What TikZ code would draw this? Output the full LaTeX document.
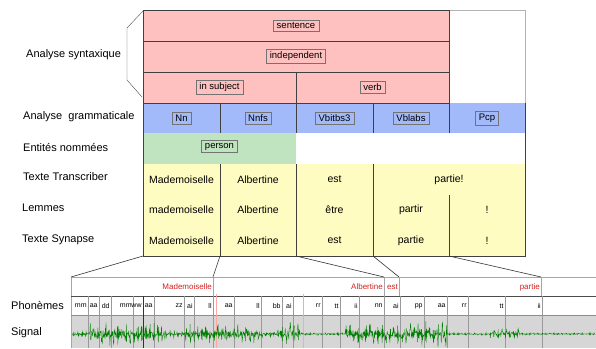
\documentclass[tikz,border=0pt]{standalone}
\usepackage{fontspec}
\setmainfont{Liberation Sans}
\usetikzlibrary{calc,positioning}
\definecolor{synpink}{RGB}{255,192,192}
\definecolor{grablue}{RGB}{162,186,250}
\definecolor{entgreen}{RGB}{192,228,192}
\definecolor{txtyellow}{RGB}{255,252,194}
\definecolor{siggray}{RGB}{214,214,214}
\definecolor{wavegreen}{RGB}{0,128,0}
\definecolor{wordred}{RGB}{214,30,30}
\tikzset{
  tag/.style={draw=black!55, inner xsep=3.5pt, inner ysep=2.5pt, font=\fontsize{9.5}{11}\selectfont},
  word/.style={inner sep=0pt, font=\fontsize{10.5}{12}\selectfont},
  rowlabel/.style={anchor=west, inner sep=0pt, font=\fontsize{11}{13}\selectfont},
  tierword/.style={anchor=east, inner sep=1pt, text=wordred, font=\fontsize{8}{9}\selectfont},
  phon/.style={anchor=east, inner sep=1.2pt, font=\fontsize{7}{8}\selectfont},
  grid/.style={draw=black!75, line width=0.6pt},
  link/.style={draw=black!80, line width=0.6pt},
}
\begin{document}
\begin{tikzpicture}[x=1pt,y=-1pt,
  declare function={amp(\t)=(0.2+0.8*abs(sin(45*mod(\t,8)))^3)*(3*(\t<90)
    + 12*and(\t>=90,\t<165) + 4*and(\t>=165,\t<185) + 10*and(\t>=185,\t<260)
    + 4*and(\t>=260,\t<280) + 13*and(\t>=280,\t<300) + 1.5*and(\t>=300,\t<345)
    + 11*and(\t>=345,\t<410) + 14*and(\t>=410,\t<447) + 1.5*and(\t>=447,\t<490)
    + 6*and(\t>=490,\t<520) + 1.2*(\t>=520));}]
  \useasboundingbox (0,0) rectangle (596,348);
  \pgfmathsetseed{7}

  % table
  \fill[synpink] (143,10) rectangle (449,103);
  \fill[grablue] (143,103) rectangle (525,133);
  \fill[entgreen] (143,133) rectangle (296,164);
  \fill[txtyellow] (143,164) rectangle (525,256);
  \draw[black!30] (449,10) -- (525,10) -- (525,103);
  \draw[grid] (449,10) -- (143,10) -- (143,256) -- (525,256) -- (525,103);
  \draw[grid] (143,41) -- (449,41) (143,72) -- (449,72) (143,103) -- (449,103);
  \draw[grid] (449,10) -- (449,133) (449,195) -- (449,256);
  \draw[grid] (296,72) -- (296,133) (296,164) -- (296,256);
  \draw[grid] (220,103) -- (220,133) (220,164) -- (220,256);
  \draw[grid] (373,103) -- (373,133) (373,164) -- (373,256);

  \node[tag] (sentence) at (296,25.5) {sentence};
  \node[tag] (independent) at (296,56.5) {independent};
  \node[tag] (subject) at (219.5,87.5) {in subject};
  \node[tag] (verb) at (372.5,87.5) {verb};
  \node[tag] (nn) at (181.5,118) {Nn};
  \node[tag] (nnfs) at (258,118) {Nnfs};
  \node[tag] (vbitbs) at (334.5,118) {Vbitbs3};
  \node[tag] (vblabs) at (411,118) {Vblabs};
  \node[tag] (pcp) at (487,118) {Pcp};
  \node[tag] (person) at (219.5,146.5) {person};

  \node[word] (tr1) at (181.5,179.5) {Mademoiselle};
  \node[word] (tr2) at (258,179.5) {Albertine};
  \node[word] (tr3) at (334.5,179.5) {est};
  \node[word] (tr4) at (449,179.5) {partie!};
  \node[word] (le1) at (181.5,210) {mademoiselle};
  \node[word] (le2) at (258,210) {Albertine};
  \node[word] (le3) at (334.5,210) {être};
  \node[word] (le4) at (411,210) {partir};
  \node[word] (le5) at (487,210) {!};
  \node[word] (sy1) at (181.5,240.5) {Mademoiselle};
  \node[word] (sy2) at (258,240.5) {Albertine};
  \node[word] (sy3) at (334.5,240.5) {est};
  \node[word] (sy4) at (411,240.5) {partie};
  \node[word] (sy5) at (487,240.5) {!};

  % row labels
  \node[rowlabel] (syntaxe) at (26,55) {Analyse syntaxique};
  \draw[black!70] (143,11) -- (127,28) -- (127,80) -- (142,97);
  \node[rowlabel] (gram) at (23,117) {Analyse~ grammaticale};
  \node[rowlabel] (entites) at (23,148) {Entités nommées};
  \node[rowlabel] (transcr) at (23,177) {Texte Transcriber};
  \node[rowlabel] (lemmes) at (22,208) {Lemmes};
  \node[rowlabel] (synapse) at (22,240) {Texte Synapse};
  \node[rowlabel] (phonemes) at (11,305) {Phonèmes};
  \node[rowlabel] (signal) at (11,333) {Signal};

  % tiers
  \fill[siggray] (71,315) rectangle (596,348);
  \draw[black!35] (596,277) -- (71,277) -- (71,348);
  \draw[black!70] (71,296) -- (596,296);
  \draw[black!45] (71,315) -- (596,315);
  \draw[red!35, line width=0.8pt] (216,294) -- (216,348);
  \draw[orange!60, line width=0.8pt] (303.5,294) -- (303.5,348);

  \coordinate (w0) at (71,277);
  \coordinate (w1) at (213,277);
  \coordinate (w2) at (384,277);
  \coordinate (w3) at (399,277);
  \coordinate (w4) at (541,277);
  \foreach \w in {w1,w2,w3,w4}
    \draw[black!35] (\w) -- ++(0,19);
  \node[tierword] (wmad) at (213,287) {Mademoiselle};
  \node[tierword] (walb) at (384,287) {Albertine};
  \node[tierword] (west) at (399,287) {est};
  \node[tierword] (wpar) at (541,287) {partie};

  \coordinate (t0) at (143,256);
  \coordinate (t1) at (220,256);
  \coordinate (t2) at (296,256);
  \coordinate (t3) at (373,256);
  \coordinate (t4) at (449,256);
  \foreach \i in {0,...,4}
    \draw[link] (t\i) -- (w\i);

  \foreach \b/\p [count=\i] in {88/mm,99/aa,111/dd,133/mm,143/ww,154/aa,184/zz,194/ai,
      213/ll,234/aa,261/ll,282/bb,293/ai,322/rr,340/tt,359/ii,384/nn,400/ai,
      424/pp,447/aa,468/rr,505/tt,542/ii} {
    \draw[black!40] (\b,296) -- (\b,348);
    \node[phon] (ph\i) at (\b,306) {\p};
  }
  \draw[black!80] (143,296) -- (143,348);

  \begin{scope}
    \clip (71,315) rectangle (596,348);
    \draw[wavegreen, line width=0.35pt] plot[domain=72:595, samples=1600]
      (\x,{334+amp(\x)*rand});
  \end{scope}
\end{tikzpicture}
\end{document}
